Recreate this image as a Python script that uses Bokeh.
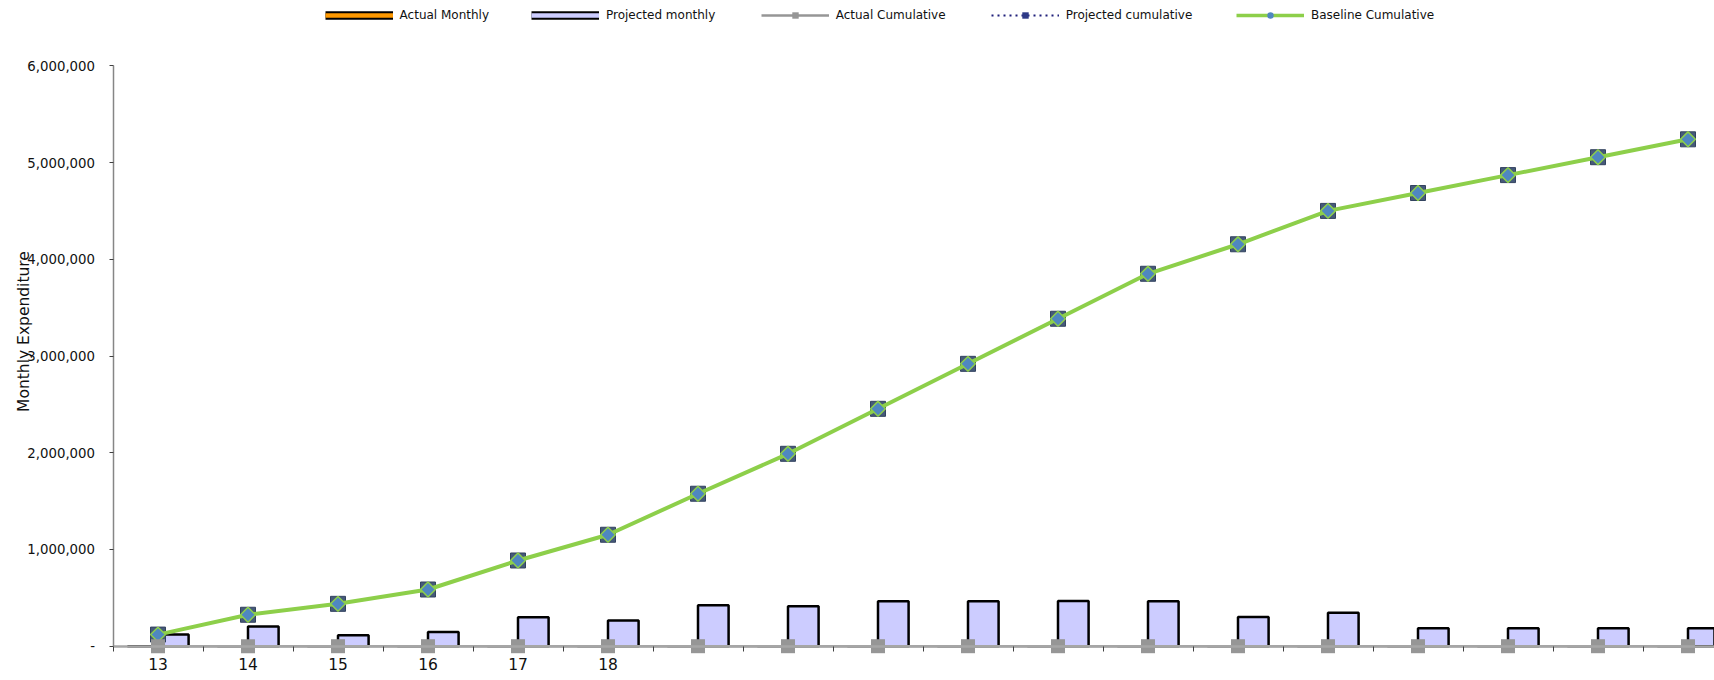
import math
from bokeh.plotting import figure
from bokeh.models import (Range1d, FixedTicker, Legend, LegendItem, Label,
                          ColumnDataSource, NumeralTickFormatter)
from bokeh.embed import file_html
from bokeh.resources import INLINE

# ---------------- data ----------------
periods = list(range(18))
x_labels = ["13", "14", "15", "16", "17", "18", "", "", "", "", "", "", "", "", "", "", "", ""]
actual_monthly = [0, 0, 0, 0, 0, 0, 0, 0, 0, 0, 0, 0, 0, 0, 0, 0, 0, 0]
projected_monthly = [120000, 204000, 113000, 148000, 300000, 266000, 424000, 413000, 465000,
                     465000, 466000, 465000, 303000, 345000, 185000, 185000, 185000, 185000]
actual_cumulative = [0, 0, 0, 0, 0, 0, 0, 0, 0, 0, 0, 0, 0, 0, 0, 0, 0, 0]
projected_cumulative = [120000, 325000, 438000, 586000, 886000, 1152000, 1576000, 1989000, 2454000,
                        2919000, 3385000, 3850000, 4155000, 4500000, 4685000, 4870000, 5055000, 5240000]
baseline_cumulative = [120000, 325000, 438000, 586000, 886000, 1152000, 1576000, 1989000, 2454000,
                       2919000, 3385000, 3850000, 4155000, 4500000, 4685000, 4870000, 5055000, 5240000]
y_ticks = [0, 1000000, 2000000, 3000000, 4000000, 5000000, 6000000]

# ---------------- layout (frame covers the whole canvas) ----------------
W, H = 1714, 680
axis_x_px = 112.5          # screen x of the y axis
band_px = 90.0             # width of one category
top_px, zero_px = 65.3, 645.7
y_top = 6000000
per_px = y_top / (zero_px - top_px)
x_start = -0.5 - axis_x_px / band_px
x_end = -0.5 + (W - axis_x_px) / band_px
y_end = y_top + top_px * per_px
y_start = -(H - zero_px) * per_px

p = figure(width=W, height=H, output_backend="svg", toolbar_location=None,
           x_range=Range1d(x_start, x_end), y_range=Range1d(y_start, y_end),
           min_border_left=0, min_border_right=0, min_border_top=0,
           min_border_bottom=0, background_fill_color="white",
           border_fill_color="white")
p.xgrid.visible = False
p.ygrid.visible = False
p.outline_line_color = None

src = ColumnDataSource(dict(
    x=periods,
    xb=[i + 0.17 for i in periods],
    xa=[i - 0.17 for i in periods],
    am=actual_monthly, pm=projected_monthly,
    ac=actual_cumulative, pc=projected_cumulative, bc=baseline_cumulative,
))

# bars
p.vbar(x="xa", top="am", bottom=0, width=0.34, source=src,
       fill_color="#FF9900", line_color="black", line_width=2.5)
p.vbar(x="xb", top="pm", bottom=0, width=0.34, source=src,
       fill_color="#CCCCFF", line_color="black", line_width=2.5)

# actual cumulative line
p.line(x="x", y="ac", source=src, line_color="#A6A6A6", line_width=2.5)
# projected cumulative
p.line(x="x", y="pc", source=src, line_color="#1F1F7A", line_width=2, line_dash="2 4")
p.scatter(x="x", y="pc", source=src, marker="square", size=15,
          fill_color="#45597A", line_color="#33435F", line_width=1)
# baseline cumulative
p.line(x="x", y="bc", source=src, line_color="#8DCF4A", line_width=4)
p.scatter(x="x", y="bc", source=src, marker="square", angle=math.pi / 4, size=10.5,
          fill_color="#4F87C0", line_color="#8DCF4A", line_width=1.5)
# actual cumulative markers
p.scatter(x="x", y="ac", source=src, marker="square", size=14,
          fill_color="#969696", line_color=None)

# ---------------- axes ----------------
xa = p.xaxis[0]
xa.fixed_location = 0
xa.bounds = (-0.5, x_end)
xa.ticker = FixedTicker(ticks=periods, minor_ticks=[i - 0.5 for i in range(19)])
xa.major_label_overrides = {i: lab for i, lab in zip(periods, x_labels)}
xa.major_tick_out = 0
xa.major_tick_in = 0
xa.minor_tick_out = 5
xa.minor_tick_in = 0
xa.minor_tick_line_color = "#404040"
xa.axis_line_color = "#A6A6A6"
xa.axis_line_width = 2.5
xa.major_label_standoff = 7
xa.major_label_text_font = "DejaVu Sans"
xa.major_label_text_font_size = "15.5px"
xa.major_label_text_color = "#111111"

ya = p.yaxis[0]
ya.fixed_location = -0.5
ya.bounds = (0, y_top)
ya.ticker = FixedTicker(ticks=y_ticks)
ya.formatter = NumeralTickFormatter(format="0,0")
ya.major_label_overrides = {0: "-"}
ya.major_tick_out = 4
ya.major_tick_in = 0
ya.minor_tick_out = 0
ya.minor_tick_in = 0
ya.major_tick_line_color = "#404040"
ya.axis_line_color = "#868686"
ya.axis_line_width = 1.5
ya.major_label_standoff = 14
ya.major_label_text_font = "DejaVu Sans"
ya.major_label_text_font_size = "13.3px"
ya.major_label_text_color = "#111111"

p.add_layout(Label(x=23, y=H - 331, x_units="screen", y_units="screen",
                   text="Monthly Expenditure", angle=math.pi / 2, text_align="center",
                   text_baseline="middle", text_font="DejaVu Sans", text_font_size="15.5px",
                   text_color="#111111"))

# ---------------- legend ----------------
NAN = float("nan")

def dummy_line(**kw):
    return p.line(x=[NAN], y=[NAN], **kw)

def dummy_marker(**kw):
    return p.scatter(x=[NAN], y=[NAN], **kw)

leg_vy = H - 22.7
legend_specs = [
    ("Actual Monthly", 324.6, [dummy_line(line_color="black", line_width=8.5),
                               dummy_line(line_color="#FF9900", line_width=4.5)]),
    ("Projected monthly", 531.0, [dummy_line(line_color="black", line_width=8.5),
                                  dummy_line(line_color="#CCCCFF", line_width=4.5)]),
    ("Actual Cumulative", 760.7, [dummy_line(line_color="#969696", line_width=2.5),
                                  dummy_marker(marker="square", size=7, fill_color="#969696",
                                               line_color=None)]),
    ("Projected cumulative", 990.7, [dummy_line(line_color="#1F1F7A", line_width=2, line_dash="2 4"),
                                     dummy_marker(marker="square", size=8, fill_color="#2E3A87",
                                                  line_color=None)]),
    ("Baseline Cumulative", 1236.0, [dummy_line(line_color="#8DCF4A", line_width=3.5),
                                     dummy_marker(marker="circle", size=3.5,
                                                  fill_color="#4F87C0", line_color=None)]),
]
for label, gx, rs in legend_specs:
    leg = Legend(items=[LegendItem(label=label, renderers=rs)], location=(gx, leg_vy),
                 orientation="horizontal", padding=0, margin=0, spacing=0,
                 glyph_width=68, glyph_height=16, label_height=16, label_standoff=7,
                 border_line_color=None, background_fill_alpha=0,
                 label_text_font="DejaVu Sans", label_text_font_size="12px",
                 label_text_color="#111111")
    p.add_layout(leg, "center")

open("out.html", "w").write(file_html(p, INLINE))
